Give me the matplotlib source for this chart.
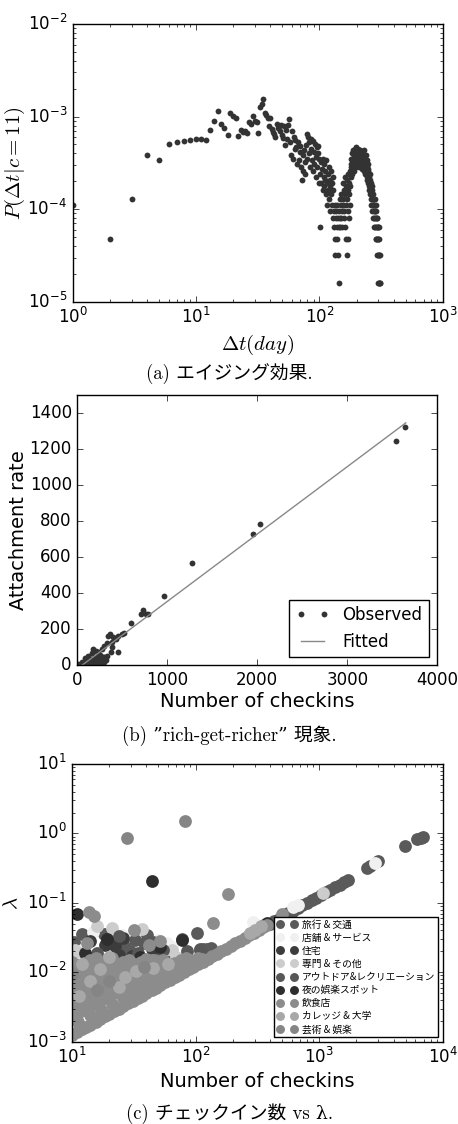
import numpy as np
import matplotlib
matplotlib.use("Agg")
import matplotlib.pyplot as plt

plt.style.use("classic")
plt.rcParams["font.family"] = ["DejaVu Sans", "Noto Sans CJK JP"]
plt.rcParams["mathtext.fontset"] = "cm"
plt.rcParams["figure.facecolor"] = "white"
plt.rcParams["savefig.facecolor"] = "white"

# ---- (a) aging effect: P(dt | c=11), counts per day ----
p_unit = 1.6e-5
aging_days = list(range(1, 311))
aging_counts = [
    7, 3, 8, 24, 21, 32, 33, 34, 35, 36,
    36, 35, 45, 56, 72, 52, 47, 40, 69, 64,
    60, 39, 45, 43, 44, 42, 55, 52, 64, 56,
    55, 42, 80, 86, 96, 69, 65, 60, 50, 61,
    46, 43, 41, 38, 52, 47, 50, 44, 51, 40,
    37, 49, 31, 45, 36, 51, 59, 33, 24, 44,
    22, 38, 28, 35, 29, 19, 33, 21, 26, 30,
    18, 13, 24, 16, 27, 20, 15, 31, 22, 41,
    38, 25, 33, 18, 36, 28, 21, 34, 16, 26,
    19, 32, 23, 14, 29, 18, 25, 30, 12, 22,
    4, 15, 20, 12, 17, 10, 22, 14, 11, 19,
    13, 16, 9, 21, 12, 7, 15, 10, 18, 8,
    13, 11, 6, 16, 9, 12, 7, 10, 5, 14,
    6, 4, 7, 3, 2, 5, 6, 4, 3, 7,
    5, 2, 4, 1, 6, 5, 8, 4, 7, 5,
    9, 6, 4, 8, 7, 12, 5, 10, 6, 9,
    14, 4, 7, 11, 3, 8, 2, 13, 6, 10,
    3, 15, 5, 9, 12, 7, 16, 11, 18, 14,
    19, 22, 15, 25, 18, 21, 17, 27, 20, 23,
    16, 26, 19, 28, 22, 24, 18, 29, 21, 25,
    20, 27, 23, 19, 26, 22, 28, 24, 21, 25,
    18, 23, 27, 20, 24, 22, 26, 19, 23, 21,
    25, 17, 22, 20, 24, 18, 21, 27, 19, 23,
    16, 20, 22, 18, 21, 15, 19, 24, 17, 20,
    14, 18, 16, 21, 13, 17, 15, 19, 12, 16,
    14, 11, 13, 10, 15, 12, 9, 11, 13, 8,
    10, 12, 7, 9, 11, 8, 10, 6, 9, 7,
    8, 5, 7, 9, 6, 8, 4, 7, 5, 6,
    8, 4, 6, 5, 7, 3, 5, 4, 6, 3,
    5, 4, 2, 5, 3, 4, 2, 3, 4, 1,
    3, 2, 3, 1, 2, 4, 1, 2, 1, 1,
]

# ---- (b) rich-get-richer ----
obs_checkins = [3641, 3541, 2030, 1956, 1274, 960, 597, 733, 704, 763, 789,
                522, 493, 449, 400, 363, 344, 430, 382, 326, 300, 456, 389,
                374, 271, 233, 189, 160, 122, 86, 49, 11, 289, 171, 204,
                20, 35, 50, 65, 80, 95, 110, 125, 140, 150, 165, 180, 195,
                210, 225, 240, 255, 265, 280, 300, 315, 330, 230, 270, 300,
                200, 170, 140, 110, 60, 30, 250, 215, 185, 155, 130, 105,
                80, 60, 40]
obs_rate = [1326, 1244, 785, 729, 568, 385, 233, 307, 285, 283, 283,
            178, 172, 164, 159, 174, 163, 146, 131, 122, 109, 76, 103,
            76, 89, 76, 81, 67, 52, 39, 20, 7, 48, 89, 79,
            2, 4, 6, 8, 5, 12, 15, 10, 20, 8, 25, 18, 30,
            22, 35, 28, 12, 40, 32, 45, 30, 50, 5, 15, 20,
            10, 3, 2, 1, 1, 0.5, 55, 48, 40, 33, 28, 22,
            15, 10, 8]
fit_checkins = [52, 3650]
fit_rate = [0, 1347]

# ---- (c) checkins vs lambda, by venue category ----
cat_names = ["旅行 & 交通", "店舗 & サービス", "住宅", "専門 & その他",
             "アウトドア&レクリエーション", "夜の娯楽スポット", "飲食店",
             "カレッジ & 大学", "芸術 & 娯楽"]
cat_colors = ["#5a5a5a", "#f0f0f0", "#3c3c3c", "#cccccc", "#575757",
              "#2e2e2e", "#8c8c8c", "#a8a8a8", "#858585"]

travel_n = [400, 435, 475, 518, 565, 616, 672, 733, 800, 872, 951, 1037,
            1131, 1234, 1346, 1468, 1601, 1720,
            2420, 2560, 3000, 4940, 6220, 6620, 6950,
            12.1, 18, 40.5, 32.6, 38, 27, 29.7, 47.3, 64, 77.6, 102, 10.3,
            108, 115, 124, 134]
travel_lam = [0.05, 0.0544, 0.0594, 0.0648, 0.0706, 0.077, 0.084, 0.0916,
              0.1, 0.109, 0.119, 0.13, 0.141, 0.154, 0.168, 0.1835, 0.2, 0.215,
              0.32, 0.345, 0.40, 0.66, 0.83, 0.87, 0.90,
              0.036, 0.036, 0.035, 0.029, 0.026, 0.023, 0.020, 0.020, 0.015,
              0.030, 0.037, 0.027,
              0.0215, 0.022, 0.0215, 0.0225]
shop_n = [14.8, 50, 58.6, 64, 293, 615, 670, 2830, 12, 26]
shop_lam = [0.038, 0.029, 0.026, 0.023, 0.053, 0.088, 0.092, 0.375, 0.021, 0.034]
home_n = [19.2, 21, 18.6, 22.4, 30.6, 23.8, 14, 26, 44]
home_lam = [0.030, 0.026, 0.025, 0.024, 0.017, 0.0175, 0.028, 0.031, 0.022]
prof_n = [20.9, 36.8, 11, 1070, 64, 69.5, 10.5, 31, 16]
prof_lam = [0.043, 0.042, 0.0197, 0.14, 0.021, 0.0167, 0.021, 0.014, 0.047]
outdoor_n = [15.9, 45, 55, 85, 109, 24, 34]
outdoor_lam = [0.019, 0.027, 0.021, 0.020, 0.021, 0.033, 0.019]
night_n = [11, 44.6, 19.2, 12.8, 51.9, 78, 377, 360, 35.8]
night_lam = [0.069, 0.206, 0.030, 0.019, 0.023, 0.029, 0.052, 0.048, 0.0167]
food_n = [10, 11, 12, 13, 14, 15.5, 17, 18.5, 20, 22, 24, 26, 28.5, 31, 34,
          37, 40, 44, 48, 52, 57, 62, 68, 74, 81, 88, 96, 105, 114, 125, 136,
          148, 162, 176, 192, 210, 229, 250, 272, 297, 324, 354, 380,
          10, 10, 10, 10, 10, 10, 10,
          11.2, 11.2, 11.2, 11.2, 11.2, 11.2, 11.2,
          12.5, 12.5, 12.5, 12.5, 12.5, 12.5,
          14, 14, 14, 14, 14, 14, 14,
          15.5, 15.5, 15.5, 15.5, 15.5, 15.5,
          17.2, 17.2, 17.2, 17.2, 17.2, 17.2,
          19, 19, 19, 19, 19,
          21, 21, 21, 21, 21, 21,
          23.5, 23.5, 23.5, 23.5,
          26, 26, 26, 26, 26,
          27.5, 27.5,
          29, 29, 29, 29,
          32.5, 32.5, 32.5, 32.5,
          34, 34, 34,
          36, 36, 36,
          40, 40, 40, 40,
          42, 42, 42,
          44, 44, 44,
          46.5, 46.5,
          49.5, 49.5, 49.5,
          52, 52, 52,
          55, 55, 55,
          58, 58,
          61, 61,
          65, 65,
          68, 68,
          72, 72,
          76, 76,
          80, 80,
          84, 84,
          88, 93, 98, 104, 112,
          13.8, 15, 31.5, 41.7, 45.8, 90.5, 13.2, 139, 184, 51.5, 500]
food_lam = [0.00125, 0.001375, 0.0015, 0.001625, 0.00175, 0.00194, 0.002125,
            0.00231, 0.0025, 0.00275, 0.003, 0.00325, 0.00356, 0.00388,
            0.00425, 0.00463, 0.005, 0.0055, 0.006, 0.0065, 0.00713, 0.00775,
            0.0085, 0.00925, 0.0101, 0.011, 0.012, 0.0131, 0.01425, 0.0156,
            0.017, 0.0185, 0.02025, 0.022, 0.024, 0.02625, 0.0286, 0.03125,
            0.034, 0.0371, 0.0405, 0.0443, 0.0475,
            0.0023, 0.0032, 0.0044, 0.006, 0.0082, 0.011, 0.014,
            0.0019, 0.0026, 0.0037, 0.0051, 0.007, 0.0095, 0.0128,
            0.0029, 0.004, 0.0055, 0.0075, 0.010, 0.0135,
            0.0024, 0.0033, 0.0045, 0.0062, 0.0085, 0.0115, 0.015,
            0.0036, 0.0049, 0.0067, 0.009, 0.0125, 0.016,
            0.0029, 0.004, 0.0055, 0.0075, 0.0102, 0.0135,
            0.0044, 0.006, 0.0082, 0.011, 0.0145,
            0.0035, 0.0048, 0.0066, 0.009, 0.0122, 0.016,
            0.0053, 0.0072, 0.0098, 0.013,
            0.0043, 0.0059, 0.008, 0.011, 0.014,
            0.0045, 0.0062,
            0.0065, 0.0088, 0.012, 0.015,
            0.0053, 0.0072, 0.0098, 0.0132,
            0.0060, 0.0082, 0.011,
            0.0078, 0.0105, 0.014,
            0.0064, 0.0087, 0.0118, 0.0155,
            0.0068, 0.0092, 0.012,
            0.0095, 0.0128, 0.015,
            0.0075, 0.010,
            0.0078, 0.0105, 0.014,
            0.0082, 0.011, 0.0145,
            0.0115, 0.015, 0.013,
            0.0090, 0.012,
            0.0095, 0.0125,
            0.0098, 0.013,
            0.0135, 0.0115,
            0.0105, 0.0135,
            0.0115, 0.015,
            0.0112, 0.0145,
            0.0135, 0.016,
            0.0122, 0.0135, 0.0135, 0.016, 0.0155,
            0.074, 0.065, 0.041, 0.025, 0.0149, 0.015, 0.026, 0.052, 0.134,
            0.028, 0.070]
college_n = [11.5, 14, 17, 24, 33, 45, 60, 276, 300, 340, 12, 20, 27]
college_lam = [0.0045, 0.0075, 0.011, 0.0062, 0.0105, 0.0115, 0.013, 0.037,
               0.040, 0.046, 0.013, 0.0165, 0.0085]
arts_n = [27.7, 82.6, 10, 20, 38, 16]
arts_lam = [0.87, 1.49, 0.0095, 0.0075, 0.012, 0.0055]

cat_n = [travel_n, shop_n, home_n, prof_n, outdoor_n, night_n, food_n,
         college_n, arts_n]
cat_lam = [travel_lam, shop_lam, home_lam, prof_lam, outdoor_lam, night_lam,
           food_lam, college_lam, arts_lam]

fig = plt.figure(figsize=(4.58, 11.24), dpi=100)
cap_font = ["cmr10", "DejaVu Serif", "Noto Sans CJK JP"]

# (a)
ax1 = fig.add_axes([0.1587, 0.7316, 0.808, 0.247])
ax1.plot(aging_days, np.array(aging_counts) * p_unit, "o", color="#333333",
         mec="#333333", mew=0, ms=4.2)
ax1.set_xscale("log")
ax1.set_yscale("log")
ax1.set_xlim(1, 1e3)
ax1.set_ylim(1e-5, 1e-2)
ax1.set_xlabel(r"$\Delta t(day)$", fontsize=15)
ax1.set_ylabel(r"$P(\Delta t|c=11)$", fontsize=15)
ax1.xaxis.set_label_coords(0.5, -0.113)
ax1.yaxis.set_label_coords(-0.124, 0.5)
fig.text(0.5, 1 - 374 / 1124, "(a) エイジング効果.", ha="center", va="center",
         fontsize=13.5, family=cap_font)

# (b)
ax2 = fig.add_axes([0.1688, 0.4081, 0.786, 0.2402])
ax2.plot(obs_checkins, obs_rate, "o", color="#333333", mec="#333333", mew=0,
         ms=4.2, label="Observed")
ax2.plot(fit_checkins, fit_rate, "-", color="#888888", lw=1, label="Fitted")
ax2.set_xlim(0, 4000)
ax2.set_ylim(0, 1500)
ax2.set_xticks([0, 1000, 2000, 3000, 4000])
ax2.set_yticks(range(0, 1401, 200))
ax2.set_xlabel("Number of checkins", fontsize=14)
ax2.set_ylabel("Attachment rate", fontsize=14)
ax2.xaxis.set_label_coords(0.5, -0.098)
ax2.yaxis.set_label_coords(-0.137, 0.5)
ax2.legend(loc="lower right", bbox_to_anchor=(0.977, 0.03), borderaxespad=0,
           numpoints=2, fontsize=12, frameon=True, fancybox=False)
fig.text(0.5, 1 - 736 / 1124, "(b) \u201drich-get-richer\u201d 現象.", ha="center",
         va="center", fontsize=13.5, family=cap_font)

# (c)
ax3 = fig.add_axes([0.1572, 0.0732, 0.8094, 0.2471])
for name, color, xs, ys in zip(cat_names, cat_colors, cat_n, cat_lam):
    ax3.plot(xs, ys, "o", color=color, mec=color, mew=0, ms=9.2, label=name)
ax3.set_xscale("log")
ax3.set_yscale("log")
ax3.set_xlim(10, 1e4)
ax3.set_ylim(1e-3, 10)
ax3.set_xlabel("Number of checkins", fontsize=14)
ax3.set_ylabel(r"$\lambda$", fontsize=15)
ax3.xaxis.set_label_coords(0.5, -0.108)
ax3.yaxis.set_label_coords(-0.138, 0.5)
ax3.legend(loc="lower right", bbox_to_anchor=(0.987, 0.016),
           borderaxespad=0, numpoints=2, markerscale=0.7,
           prop={"family": ["Noto Sans CJK JP"], "size": 7},
           labelspacing=0.32, handlelength=2.0, handletextpad=0.5,
           borderpad=0.3, fancybox=False)
fig.text(0.5, 1 - 1114 / 1124, "(c) チェックイン数 vs λ.", ha="center",
         va="center", fontsize=13.5, family=cap_font)

fig.savefig("out.png", dpi=100)
